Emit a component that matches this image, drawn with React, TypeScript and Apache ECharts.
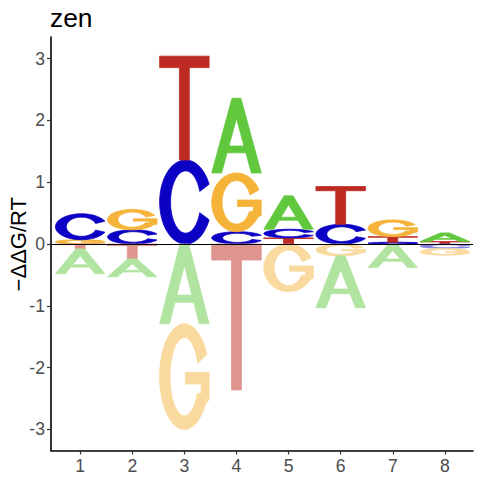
import React, { useEffect, useRef } from 'react';
import * as echarts from 'echarts';

// ---- data ----
const POSITIONS = [1, 2, 3, 4, 5, 6, 7, 8];
const LETTERS = ['A', 'C', 'G', 'T'];
const A_VALUES = [-0.40, -0.29, -1.29, 1.21, 0.54, -0.84, -0.38, 0.14];
const C_VALUES = [0.42, 0.23, 1.36, 0.20, 0.14, 0.32, 0.03, -0.07];
const G_VALUES = [0.07, 0.33, -1.71, 0.95, -0.77, -0.19, 0.27, -0.11];
const T_VALUES = [-0.08, -0.24, 1.68, -2.36, 0.10, 0.61, 0.09, 0.04];
const Y_TICKS = [-3, -2, -1, 0, 1, 2, 3];
const X_TICKS = POSITIONS;
const TITLE = 'zen';
const Y_LABEL = '\u2212\u0394\u0394G/RT';

// ---- style ----
const COLORS: Record<string, string> = { A: '#61C83E', C: '#0C00C4', G: '#F5B33A', T: '#BD2A21' };
const FADED: Record<string, string> = { A: '#B1E4A0', C: '#8780E0', G: '#F9D99E', T: '#DE9590' };
const HALF_WIDTH = 0.475;
const X_MIN = 0.44, X_MAX = 8.54, Y_MIN = -3.34, Y_MAX = 3.35;
const FONT = '"Liberation Sans", Arial, Helvetica, sans-serif';

type Pt = [number, number];
const arc = (cx: number, cy: number, rx: number, ry: number, a0: number, a1: number, n = 60): Pt[] => {
  const pts: Pt[] = [];
  for (let i = 0; i <= n; i++) {
    const t = ((a0 + ((a1 - a0) * i) / n) * Math.PI) / 180;
    pts.push([cx + rx * Math.cos(t), cy - ry * Math.sin(t)]);
  }
  return pts;
};
const normalize = (contours: Pt[][]): Pt[][] => {
  let minX = Infinity, minY = Infinity, maxX = -Infinity, maxY = -Infinity;
  contours.forEach((c) => c.forEach(([x, y]) => {
    minX = Math.min(minX, x); maxX = Math.max(maxX, x);
    minY = Math.min(minY, y); maxY = Math.max(maxY, y);
  }));
  return contours.map((c) => c.map(([x, y]) => [(x - minX) / (maxX - minX), (y - minY) / (maxY - minY)] as Pt));
};

const GLYPHS: Record<string, Pt[][]> = {
  A: normalize([
    [[0, 100], [41, 0], [59, 0], [100, 100], [80, 100], [69, 73], [31, 73], [20, 100]],
    [[34.8, 64], [65.2, 64], [50, 27]],
  ]),
  C: normalize([[...arc(50, 50, 50, 50, 25, 335), ...arc(50, 50, 29, 37, 340, 20)]]),
  G: normalize([[
    ...arc(50, 50, 50, 50, 25, 330),
    [100, 72], [100, 46], [52, 46], [52, 57], [84, 57], [84, 66],
    ...arc(50, 50, 29, 37, 335, 20),
  ]]),
  T: normalize([[[0, 0], [100, 0], [100, 11], [60, 11], [60, 100], [40, 100], [40, 11], [0, 11]]]),
};

function buildStacks() {
  const rows: number[][] = [];
  const all = [A_VALUES, C_VALUES, G_VALUES, T_VALUES];
  POSITIONS.forEach((pos, i) => {
    const items = LETTERS.map((_, li) => ({ li, v: all[li][i] }));
    const pos_ = items.filter((d) => d.v > 0).sort((a, b) => a.v - b.v);
    const neg_ = items.filter((d) => d.v < 0).sort((a, b) => b.v - a.v);
    let acc = 0;
    pos_.forEach((d) => { rows.push([pos, acc, acc + d.v, d.li, 0]); acc += d.v; });
    acc = 0;
    neg_.forEach((d) => { rows.push([pos, acc + d.v, acc, d.li, 1]); acc += d.v; });
  });
  return rows;
}

export default function App() {
  const ref = useRef<HTMLDivElement>(null);
  useEffect(() => {
    document.body.style.margin = '0';
    if (!ref.current) return;
    const chart = echarts.init(ref.current, null, { renderer: 'svg' });
    const data = buildStacks();
    chart.setOption({
      animation: false,
      backgroundColor: '#ffffff',
      grid: { left: 51, right: 7, top: 37, bottom: 29.5, containLabel: false },
      graphic: [
        {
          type: 'text', x: 50, y: 17.5,
          style: { text: TITLE, fontSize: 26.4, fontFamily: FONT, fill: '#000', verticalAlign: 'middle', align: 'left' },
        },
        {
          type: 'text', x: 18.5, y: 244.2, rotation: Math.PI / 2,
          style: { text: Y_LABEL, fontSize: 22, fontFamily: FONT, fill: '#000', verticalAlign: 'middle', align: 'center' },
        },
      ],
      xAxis: {
        type: 'value', min: X_MIN, max: X_MAX,
        axisLine: { show: true, onZero: false, lineStyle: { color: '#000', width: 1.6 } },
        axisTick: { show: true, customValues: X_TICKS, length: 4, lineStyle: { color: '#333', width: 1.2 } },
        axisLabel: { customValues: X_TICKS, color: '#4D4D4D', fontSize: 17.6, fontFamily: FONT, margin: 6 },
        splitLine: { show: false },
      },
      yAxis: {
        type: 'value', min: Y_MIN, max: Y_MAX,
        axisLine: { show: true, onZero: false, lineStyle: { color: '#000', width: 1.6 } },
        axisTick: { show: true, customValues: Y_TICKS, length: 4, lineStyle: { color: '#333', width: 1.2 } },
        axisLabel: { customValues: Y_TICKS, color: '#4D4D4D', fontSize: 17.6, fontFamily: FONT, margin: 6 },
        splitLine: { show: false },
      },
      series: [
        {
          type: 'custom',
          data,
          encode: { x: 0, y: [1, 2] },
          renderItem: (params: any, api: any) => {
            const pos = api.value(0) as number;
            const lo = api.value(1) as number;
            const hi = api.value(2) as number;
            const li = api.value(3) as number;
            const neg = api.value(4) as number;
            const [x0, yTop] = api.coord([pos - HALF_WIDTH, hi]);
            const [x1, yBot] = api.coord([pos + HALF_WIDTH, lo]);
            const w = x1 - x0, h = yBot - yTop;
            const letter = LETTERS[li];
            const d = GLYPHS[letter]
              .map((c) => c.map(([u, v], k) => `${k ? 'L' : 'M'}${(x0 + u * w).toFixed(2)},${(yTop + v * h).toFixed(2)}`).join('') + 'Z')
              .join('');
            const color = neg ? FADED[letter] : COLORS[letter];
            return { type: 'path', shape: { pathData: d }, style: { fill: color, stroke: color, lineWidth: 0.8 } };
          },
          markLine: {
            silent: true, symbol: 'none',
            label: { show: false },
            lineStyle: { color: '#000', width: 1, type: 'solid' },
            data: [{ yAxis: 0 }],
          },
        },
      ],
    });
    return () => chart.dispose();
  }, []);
  return <div ref={ref} style={{ width: 480, height: 480 }} />;
}
